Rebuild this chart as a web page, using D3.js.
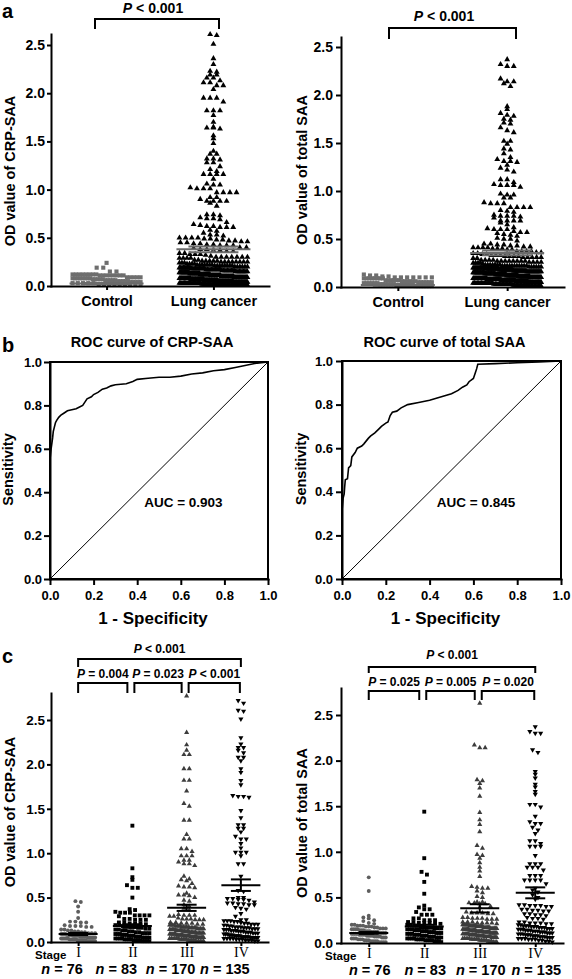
<!DOCTYPE html>
<html><head><meta charset="utf-8">
<script src="https://cdn.jsdelivr.net/npm/d3@7"></script>
<style>
body{margin:0;background:#fff;}
svg{display:block;}
</style></head><body>
<script>
// ---------------- DATA ----------------
const groupCats = ['Control', 'Lung cancer'];
const stageCats = ['I', 'II', 'III', 'IV'];
const stageN = ['76', '83', '170', '135'];
const yTicks = [0, 0.5, 1.0, 1.5, 2.0, 2.5];
const rocTicks = [0, 0.2, 0.4, 0.6, 0.8, 1.0];

const pGroupCrp = 'P < 0.001';
const pGroupTsa = 'P < 0.001';
const pStageCrpAll = 'P < 0.001';
const pStageCrp = ['P = 0.004', 'P = 0.023', 'P < 0.001'];
const pStageTsaAll = 'P < 0.001';
const pStageTsa = ['P = 0.025', 'P = 0.005', 'P = 0.020'];

// CRP-SAA OD values
const crpControl = [0.24,0.19,0.19,0.15,0.15,0.12,0.12,0.12,0.12,0.12,0.12,0.12,0.12,0.11,0.11,0.11,0.11,0.11,0.11,0.11,0.11,
0.09,0.09,0.09,0.09,0.09,0.08,0.08,0.08,0.08,0.08,0.08,0.08,0.08,0.07,0.07,0.07,0.07,0.07,0.06,0.06,0.06,0.06,0.06,
0.05,0.05,0.05,0.05,0.05,0.04,0.04,0.04,0.04,0.04,0.03,0.03,0.03,0.03,0.03,0.02,0.02,0.02,0.02,0.02,0.01,0.01,0.01,0.01];

const crpI = [0.46,0.45,0.40,0.34,0.27,0.23,0.23,0.22,0.22,0.19,0.18,0.18,0.18,0.17,0.17,0.14,0.14,0.13,0.13,0.12,0.12,
0.11,0.11,0.10,0.10,0.10,0.09,0.09,0.09,0.09,0.08,0.08,0.08,0.08,0.07,0.07,0.07,0.07,0.07,0.06,0.06,0.06,0.06,0.06,
0.05,0.05,0.05,0.05,0.05,0.05,0.04,0.04,0.04,0.04,0.04,0.04,0.03,0.03,0.03,0.03,0.03,0.03,0.02,0.02,0.02,0.02,0.02,0.02,0.02,
0.01,0.01,0.01,0.01,0.01,0.01,0.01];

const crpII = [1.31,0.83,0.73,0.70,0.64,0.61,0.61,0.50,0.37,0.36,0.34,0.33,0.33,0.33,0.30,0.30,0.30,0.30,0.29,0.26,0.26,
0.25,0.25,0.25,0.22,0.22,0.21,0.21,0.21,0.20,
0.19,0.19,0.18,0.18,0.17,0.17,0.16,0.16,0.15,0.15,0.14,0.14,0.13,0.13,0.12,0.12,0.11,0.11,0.10,0.10,0.10,0.09,0.09,0.09,
0.08,0.08,0.08,0.07,0.07,0.07,0.06,0.06,0.06,0.05,0.05,0.05,0.05,0.04,0.04,0.04,0.04,0.03,0.03,0.03,0.03,0.02,0.02,0.02,0.02,
0.01,0.01,0.01,0.01];

const crpIII = [2.77,2.36,2.22,2.16,2.11,2.11,1.95,1.95,1.82,1.82,1.70,1.56,1.53,1.37,1.37,1.21,1.16,1.16,
1.05,1.05,1.02,0.97,0.97,0.97,0.92,0.92,0.90,0.88,0.88,0.86,
0.74,0.71,0.70,0.69,0.66,0.63,0.62,0.62,0.61,0.55,0.53,0.53,0.52,0.50,0.47,0.46,0.42,0.40,0.38,0.36,
0.31,0.30,0.30,0.30,0.29,0.29,0.27,0.26,0.26,0.26,0.25,0.25,0.25,0.22,0.22,0.21,0.21,0.21,0.20,0.20,
0.19,0.19,0.19,0.19,0.18,0.18,0.18,0.18,0.17,0.17,0.17,0.17,0.17,0.16,0.16,0.16,0.16,0.16,0.15,0.15,0.15,0.15,0.15,
0.14,0.14,0.14,0.14,0.14,0.13,0.13,0.13,0.13,0.13,0.12,0.12,0.12,0.12,0.12,0.11,0.11,0.11,0.11,0.11,
0.10,0.10,0.10,0.10,0.10,0.10,0.09,0.09,0.09,0.09,0.09,0.09,0.08,0.08,0.08,0.08,0.08,0.08,0.07,0.07,0.07,0.07,0.07,0.07,
0.06,0.06,0.06,0.06,0.06,0.06,0.05,0.05,0.05,0.05,0.05,0.05,0.04,0.04,0.04,0.04,0.04,0.04,
0.03,0.03,0.03,0.03,0.03,0.02,0.02,0.02,0.02,0.02,0.01,0.01,0.01,0.01,0.01];

const crpIV = [2.72,2.69,2.61,2.60,2.51,2.30,2.23,2.19,2.19,2.16,2.13,2.08,2.08,2.04,1.95,1.91,1.82,1.77,1.65,1.64,1.64,1.63,
1.48,1.40,1.32,1.32,1.28,1.28,1.24,1.19,1.16,1.16,1.11,1.06,1.01,1.01,1.01,0.97,0.88,0.88,0.74,
0.58,0.57,0.50,0.50,0.49,0.49,0.48,0.48,0.47,0.45,0.44,0.44,0.43,0.43,0.42,0.42,0.39,0.38,0.37,0.32,0.29,
0.25,0.25,0.24,0.24,0.24,0.23,0.23,0.22,0.21,0.21,0.20,0.20,0.20,
0.19,0.19,0.18,0.18,0.17,0.17,0.17,0.16,0.16,0.16,0.15,0.15,0.15,0.14,0.14,0.14,0.13,0.13,0.13,0.12,0.12,0.12,
0.11,0.11,0.11,0.10,0.10,0.10,0.09,0.09,0.09,0.08,0.08,0.08,0.07,0.07,0.07,0.07,0.06,0.06,0.06,0.06,0.06,
0.05,0.05,0.05,0.05,0.05,0.04,0.04,0.04,0.04,0.03,0.03,0.03,0.02,0.02,0.02,0.01,0.01];

// total SAA OD values
const tsaControl = [0.13,0.12,0.12,0.11,0.11,0.10,0.10,0.10,0.10,0.10,0.10,0.10,0.09,0.09,0.09,0.09,0.09,0.09,0.09,0.09,
0.07,0.07,0.07,0.07,0.07,0.07,0.06,0.06,0.06,0.06,0.06,0.06,0.05,0.05,0.05,0.05,0.05,0.05,0.04,0.04,0.04,0.04,0.04,0.04,
0.03,0.03,0.03,0.03,0.03,0.03,0.02,0.02,0.02,0.02,0.02,0.02,0.02,0.01,0.01,0.01,0.01,0.01,0.01,0.01];

const tsaI = [0.72,0.57,0.30,0.28,0.27,0.25,0.24,0.22,0.21,0.20,0.20,0.19,0.19,0.19,0.18,0.18,0.18,0.17,0.17,0.16,0.16,0.16,
0.15,0.15,0.15,0.15,
0.14,0.14,0.14,0.13,0.13,0.13,0.12,0.12,0.12,0.12,0.11,0.11,0.11,0.11,0.10,0.10,0.10,0.10,0.09,0.09,0.09,0.09,
0.08,0.08,0.08,0.08,0.07,0.07,0.07,0.07,0.06,0.06,0.06,0.05,0.05,0.05,0.04,0.04,0.04,0.03,0.03,0.03,
0.02,0.02,0.02,0.02,0.01,0.01,0.01,0.01];

const tsaII = [1.44,0.93,0.78,0.75,0.67,0.54,0.41,0.39,0.37,0.37,0.34,0.31,0.31,0.31,0.27,0.27,0.25,0.25,0.25,0.23,0.23,
0.22,0.22,0.22,0.21,0.21,
0.20,0.20,0.19,0.19,0.18,0.18,0.17,0.17,0.16,0.16,0.16,0.15,0.15,0.15,0.14,0.14,0.14,0.13,0.13,0.13,0.12,0.12,0.12,
0.11,0.11,0.11,0.10,0.10,0.10,0.09,0.09,0.09,0.08,0.08,0.08,0.07,0.07,0.07,0.06,0.06,0.06,0.05,0.05,0.05,0.05,
0.04,0.04,0.04,0.04,0.03,0.03,0.03,0.03,0.02,0.02,0.02,0.01];

const tsaIII = [2.63,2.17,2.14,2.14,1.79,1.78,1.75,1.70,1.61,1.43,1.35,1.30,1.22,1.07,1.04,0.97,0.96,0.93,0.88,0.83,0.79,0.73,
0.62,0.61,0.60,0.60,0.57,0.55,0.51,0.50,0.45,0.45,0.44,0.44,0.43,0.43,0.40,0.39,0.34,0.33,0.33,0.33,0.32,0.32,
0.28,0.28,0.27,0.27,0.27,0.26,0.26,0.26,0.23,0.23,0.23,0.22,0.22,0.22,0.22,0.21,
0.20,0.20,0.20,0.20,0.20,0.20,0.19,0.19,0.19,0.19,0.19,0.19,0.18,0.18,0.18,0.18,0.18,0.18,0.17,0.17,0.17,0.17,0.17,0.17,
0.16,0.16,0.16,0.16,0.16,0.16,0.15,0.15,0.15,0.15,0.15,0.15,0.14,0.14,0.14,0.14,0.14,0.14,0.13,0.13,0.13,0.13,0.13,0.13,
0.12,0.12,0.12,0.12,0.12,0.12,0.11,0.11,0.11,0.11,0.11,0.11,0.10,0.10,0.10,0.10,0.10,0.10,0.09,0.09,0.09,0.09,0.09,0.09,
0.08,0.08,0.08,0.08,0.08,0.08,0.07,0.07,0.07,0.07,0.07,0.07,0.06,0.06,0.06,0.06,0.06,0.05,0.05,0.05,0.05,0.05,
0.04,0.04,0.04,0.04,0.04,0.03,0.03,0.03,0.03,0.03,0.02,0.02,0.02,0.01,0.01,0.01];

const tsaIV = [2.37,2.32,2.30,2.30,2.12,2.09,1.88,1.85,1.81,1.74,1.71,1.66,1.63,1.52,1.52,1.49,1.39,1.33,1.31,1.31,1.27,1.24,
1.20,1.12,1.12,1.09,1.06,1.06,1.06,0.96,0.87,0.87,0.87,0.83,0.83,0.83,0.80,0.74,0.74,0.74,0.69,0.69,0.69,0.69,0.65,
0.60,0.58,0.56,0.53,0.50,0.48,0.42,0.42,0.41,0.41,0.41,0.40,0.40,0.37,0.37,0.36,0.36,0.35,0.35,0.32,0.32,0.31,0.31,0.30,
0.28,0.27,0.27,0.26,0.23,0.23,0.22,0.22,0.22,0.21,0.21,
0.20,0.20,0.19,0.19,0.19,0.18,0.18,0.18,0.17,0.17,0.17,0.16,0.16,0.16,0.15,0.15,0.15,0.14,0.14,0.14,0.13,0.13,0.13,
0.12,0.12,0.12,0.11,0.11,0.11,0.10,0.10,0.10,0.09,0.09,0.09,0.08,0.08,0.08,0.07,0.07,0.07,0.06,0.06,0.06,
0.05,0.05,0.05,0.04,0.04,0.04,0.03,0.03,0.02,0.02,0.01];

// mean and SEM
const crpGroupMean = [0.025, 0.38], crpGroupSem = [0.005, 0.03];
const tsaGroupMean = [0.02, 0.355], tsaGroupSem = [0.004, 0.025];
const crpStageMean = [0.09, 0.18, 0.385, 0.64], crpStageSem = [0.012, 0.02, 0.035, 0.065];
const tsaStageMean = [0.11, 0.18, 0.38, 0.55], tsaStageSem = [0.01, 0.02, 0.045, 0.06];

// ROC curves
const rocCrpFpr = [0,0,0.005,0.008,0.012,0.015,0.02,0.025,0.03,0.04,0.05,0.065,0.08,0.10,0.12,0.14,0.15,0.16,0.17,0.19,
0.20,0.22,0.24,0.26,0.28,0.30,0.35,0.38,0.40,0.45,0.50,0.55,0.60,0.65,0.70,0.75,0.80,0.85,0.90,0.95,1.0];
const rocCrpTpr = [0,0.55,0.60,0.62,0.65,0.68,0.70,0.72,0.73,0.745,0.755,0.765,0.775,0.78,0.785,0.795,0.80,0.815,0.83,0.84,
0.85,0.86,0.875,0.88,0.89,0.895,0.90,0.91,0.92,0.925,0.93,0.93,0.935,0.945,0.95,0.96,0.965,0.975,0.985,0.995,1.0];
const rocTsaFpr = [0,0,0.005,0.01,0.012,0.015,0.025,0.03,0.04,0.045,0.06,0.07,0.09,0.10,0.12,0.13,0.15,0.17,0.18,0.20,
0.21,0.22,0.23,0.25,0.27,0.30,0.35,0.40,0.45,0.50,0.53,0.55,0.57,0.58,0.60,0.61,0.615,0.62,0.70,0.80,0.90,1.0];
const rocTsaTpr = [0,0.31,0.37,0.39,0.42,0.455,0.46,0.51,0.52,0.56,0.58,0.60,0.61,0.62,0.645,0.655,0.67,0.69,0.70,0.715,
0.72,0.75,0.765,0.77,0.785,0.80,0.81,0.82,0.835,0.85,0.865,0.88,0.89,0.905,0.92,0.95,0.965,0.985,0.988,0.992,0.996,1.0];
const aucCrp = 'AUC = 0.903', aucTsa = 'AUC = 0.845';

const lungCrp = [].concat(crpI, crpII, crpIII, crpIV);
const lungTsa = [].concat(tsaI, tsaII, tsaIII, tsaIV);

// ---------------- DRAWING ----------------
const FONT = "'Liberation Sans', Arial, Helvetica, sans-serif";
const SERIF = "'Liberation Serif', 'Times New Roman', serif";
const svg = d3.select('body').append('svg').attr('width', 572).attr('height', 979)
  .attr('font-family', FONT).attr('font-weight', 'bold');

function txt(g, x, y, str, size, o = {}) {
  const t = g.append('text').attr('font-size', size).attr('text-anchor', o.anchor || 'middle').attr('fill', '#000');
  if (o.rot) t.attr('transform', `translate(${x},${y}) rotate(-90)`); else t.attr('x', x).attr('y', y);
  if (o.family) t.attr('font-family', o.family);
  if (o.weight) t.attr('font-weight', o.weight);
  if (o.italicFirst) {
    t.append('tspan').attr('font-style', 'italic').text(str[0]);
    t.append('tspan').text(str.slice(1));
  } else t.text(str);
  return t;
}

function styleAxis(sel, size) {
  sel.attr('font-family', FONT).attr('font-size', size).attr('font-weight', 'bold');
  sel.select('.domain').attr('stroke', '#000').attr('stroke-width', 2).attr('stroke-linecap', 'square');
  sel.selectAll('.tick line').attr('stroke', '#000').attr('stroke-width', 2);
  sel.selectAll('.tick text').attr('fill', '#000');
}

function swarm(values, y, cx, maxW, rowH, gap) {
  const top = y.domain()[1];
  const pts = values.filter(v => v <= top).map(v => ({ v, py: y(v) }));
  const rows = d3.groups(pts, p => Math.round(p.py / rowH));
  const out = [];
  rows.forEach(([k, arr]) => {
    arr.sort((a, b) => b.v - a.v);
    const n = arr.length;
    const s = n > 1 ? Math.min(gap, maxW / (n - 1)) : 0;
    arr.forEach((p, i) => out.push({ v: p.v, py: p.py, px: cx + (i - (n - 1) / 2) * s }));
  });
  return out;
}

function bracket(g, x1, x2, yTop, yLeg) {
  g.append('path').attr('d', `M${x1},${yLeg}V${yTop}H${x2}V${yLeg}`)
    .attr('fill', 'none').attr('stroke', '#000').attr('stroke-width', 2);
}

function scatterPanel(o) {
  const g = svg.append('g');
  const lin = d3.scaleLinear().domain([0, 2.5]).range([o.y0, o.y25]);
  const y = d3.scaleLinear().domain([0, lin.invert(o.top)]).range([o.y0, o.top]);
  const x = d3.scalePoint().domain(o.cats).range([o.ax, o.axEnd]).padding(o.pad);
  o.groups.forEach((grp, i) => {
    const cx = x(o.cats[i]);
    const pts = swarm(grp.values, y, cx, o.maxW, o.rowH, o.gap);
    const sym = d3.symbol().type(grp.sym).size(grp.size)();
    g.append('g').selectAll('path').data(pts).join('path').attr('d', sym)
      .attr('transform', d => `translate(${d.px.toFixed(2)},${d.py.toFixed(2)})` + (grp.flip ? ' rotate(180)' : ''))
      .attr('fill', grp.color);
  });
  o.cats.forEach((c, i) => {
    const cx = x(c), m = o.means[i], s = o.sems[i];
    const mg = g.append('g').attr('stroke', o.meanColor).attr('stroke-width', 2);
    mg.append('line').attr('x1', cx - o.meanW / 2).attr('x2', cx + o.meanW / 2).attr('y1', y(m)).attr('y2', y(m));
    mg.append('line').attr('x1', cx).attr('x2', cx).attr('y1', y(Math.max(0, m - s))).attr('y2', y(m + s));
    [Math.max(0, m - s), m + s].forEach(v => mg.append('line').attr('x1', cx - o.capW / 2).attr('x2', cx + o.capW / 2).attr('y1', y(v)).attr('y2', y(v)));
  });
  const ya = g.append('g').attr('transform', `translate(${o.ax},0)`)
    .call(d3.axisLeft(y).tickValues(yTicks).tickFormat(d3.format('.1f')).tickSize(o.tickLen).tickSizeOuter(0).tickPadding(o.tickPad));
  styleAxis(ya, o.tickFont);
  const xa = g.append('g').attr('transform', `translate(0,${o.y0})`)
    .call(d3.axisBottom(x).tickSize(4).tickSizeOuter(0).tickPadding(o.catPad));
  styleAxis(xa, o.catFont);
  if (o.catFamily) xa.selectAll('.tick text').attr('font-family', o.catFamily).attr('font-weight', o.catWeight || 'bold');
  txt(g, o.titleX, o.titleY, o.title, 14.5, { rot: true });
  return { g, x, y };
}

// ---------- Panel a ----------
txt(svg, 2, 18, 'a', 20, { anchor: 'start' });
let pa1 = scatterPanel({
  ax: 51, axEnd: 269, y0: 286, y25: 45, top: 34, pad: 0.52, cats: groupCats,
  groups: [
    { values: crpControl, sym: d3.symbolSquare, size: 17, color: '#6e6e6e' },
    { values: lungCrp, sym: d3.symbolTriangle, size: 15, color: '#000' }],
  means: crpGroupMean, sems: crpGroupSem, meanColor: '#6b6b6b', meanW: 74, capW: 50,
  maxW: 68, rowH: 5, gap: 6.6, tickLen: 4, tickPad: 2, tickFont: 14, catFont: 14.5, catPad: 5.5,
  title: 'OD value of CRP-SAA', titleX: 15, titleY: 171
});
bracket(pa1.g, 95, 219, 19, 29);
txt(pa1.g, 153, 13, pGroupCrp, 14, { italicFirst: true });

let pa2 = scatterPanel({
  ax: 341, axEnd: 564, y0: 287, y25: 47, top: 37, pad: 0.52, cats: groupCats,
  groups: [
    { values: tsaControl, sym: d3.symbolSquare, size: 17, color: '#6e6e6e' },
    { values: lungTsa, sym: d3.symbolTriangle, size: 15, color: '#000' }],
  means: tsaGroupMean, sems: tsaGroupSem, meanColor: '#6b6b6b', meanW: 74, capW: 50,
  maxW: 68, rowH: 5, gap: 6.6, tickLen: 5, tickPad: 3, tickFont: 14, catFont: 14.5, catPad: 5.5,
  title: 'OD value of total SAA', titleX: 307, titleY: 170
});
bracket(pa2.g, 389, 516, 28, 39);
txt(pa2.g, 444, 21, pGroupTsa, 14, { italicFirst: true });

// ---------- Panel b ----------
function rocPanel(o) {
  const g = svg.append('g');
  const x = d3.scaleLinear().domain([0, 1]).range([o.x0, o.x1]);
  const y = d3.scaleLinear().domain([0, 1]).range([o.yB, o.yT]);
  g.append('line').attr('x1', x(0)).attr('y1', y(0)).attr('x2', x(1)).attr('y2', y(1)).attr('stroke', '#000').attr('stroke-width', 1);
  const line = d3.line().x((d, i) => x(o.fpr[i])).y((d, i) => y(o.tpr[i]));
  g.append('path').attr('d', line(o.fpr)).attr('fill', 'none').attr('stroke', '#000').attr('stroke-width', 1.6);
  const xa = g.append('g').attr('transform', `translate(0,${o.yB})`)
    .call(d3.axisBottom(x).tickValues(rocTicks).tickFormat(d3.format('.1f')).tickSize(6).tickSizeOuter(0).tickPadding(5.5));
  styleAxis(xa, 13);
  const ya = g.append('g').attr('transform', `translate(${o.x0},0)`)
    .call(d3.axisLeft(y).tickValues(rocTicks).tickFormat(d3.format('.1f')).tickSize(6).tickSizeOuter(0).tickPadding(o.tickPad));
  styleAxis(ya, 13);
  g.append('rect').attr('x', o.x0).attr('y', o.yT).attr('width', o.x1 - o.x0).attr('height', o.yB - o.yT)
    .attr('fill', 'none').attr('stroke', '#000').attr('stroke-width', 2);
  const cx = (o.x0 + o.x1) / 2 - 7;
  txt(g, cx, 347, o.title, 14.5);
  txt(g, cx + 1, 624, '1 - Specificity', 17);
  txt(g, o.yTitleX, (o.yT + o.yB) / 2 - 1, 'Sensitivity', 14.5, { rot: true });
  txt(g, x(0.612), y(0.33), o.auc, 13.5);
  return g;
}
txt(svg, 2, 352, 'b', 20, { anchor: 'start' });
rocPanel({ x0: 50, x1: 268, yT: 362, yB: 579, fpr: rocCrpFpr, tpr: rocCrpTpr, title: 'ROC curve of CRP-SAA', auc: aucCrp, yTitleX: 13, tickPad: 2 });
rocPanel({ x0: 342, x1: 561, yT: 361, yB: 579, fpr: rocTsaFpr, tpr: rocTsaTpr, title: 'ROC curve of total SAA', auc: aucTsa, yTitleX: 306, tickPad: 3 });

// ---------- Panel c ----------
function stagePanel(o) {
  const p = scatterPanel({
    ax: o.ax, axEnd: o.axEnd, y0: o.y0, y25: o.y25, top: o.top, pad: 0.5, cats: stageCats,
    groups: [
      { values: o.data[0], sym: d3.symbolCircle, size: 12, color: '#5e5e5e' },
      { values: o.data[1], sym: d3.symbolSquare, size: 15, color: '#000' },
      { values: o.data[2], sym: d3.symbolTriangle, size: 11.5, color: '#3c3c3c' },
      { values: o.data[3], sym: d3.symbolTriangle, size: 11.5, color: '#000', flip: true }],
    means: o.means, sems: o.sems, meanColor: '#000', meanW: 39, capW: 20,
    maxW: 34, rowH: 4.5, gap: 5.4, tickLen: o.tickLen, tickPad: o.tickPad, tickFont: 13.5,
    catFont: 14, catPad: 1, catFamily: SERIF, catWeight: 'normal',
    title: o.title, titleX: o.titleX, titleY: o.titleY
  });
  const x = p.x, g = p.g;
  const cxs = stageCats.map(c => x(c));
  bracket(g, cxs[0], cxs[3], o.bigTop, o.bigLeg);
  txt(g, (cxs[0] + cxs[3]) / 2, o.bigTextY, o.pAll, 12, { italicFirst: true });
  o.pPairs.forEach((pv, i) => {
    const x1 = cxs[i] + (i ? 2 : 0), x2 = cxs[i + 1] - (i < 2 ? 5 : 1);
    bracket(g, x1, x2, o.smTop, o.smLeg);
    txt(g, (x1 + x2) / 2, o.smTextY, pv, 12, { italicFirst: true });
  });
  txt(g, o.stageX, o.stageY, 'Stage', 11.5, { anchor: 'start' });
  stageN.forEach((n, i) => txt(g, cxs[i] + o.nOff, o.nY, 'n = ' + n, 14.5, { italicFirst: true }));
}
txt(svg, 2, 663, 'c', 20, { anchor: 'start' });
stagePanel({
  ax: 51, axEnd: 268, y0: 942, y25: 720, top: 693, data: [crpI, crpII, crpIII, crpIV],
  means: crpStageMean, sems: crpStageSem, tickLen: 4, tickPad: 2,
  title: 'OD value of CRP-SAA', titleX: 15, titleY: 812,
  bigTop: 659, bigLeg: 667, bigTextY: 653, pAll: pStageCrpAll,
  smTop: 683, smLeg: 693, smTextY: 678, pPairs: pStageCrp,
  stageX: 35, stageY: 959, nOff: -16, nY: 974
});
stagePanel({
  ax: 341, axEnd: 563, y0: 943, y25: 715, top: 688, data: [tsaI, tsaII, tsaIII, tsaIV],
  means: tsaStageMean, sems: tsaStageSem, tickLen: 5, tickPad: 3,
  title: 'OD value of total SAA', titleX: 307, titleY: 823,
  bigTop: 667, bigLeg: 673, bigTextY: 659, pAll: pStageTsaAll,
  smTop: 691, smLeg: 700, smTextY: 686, pPairs: pStageTsa,
  stageX: 325, stageY: 960, nOff: 1, nY: 975
});
</script>
</body></html>
